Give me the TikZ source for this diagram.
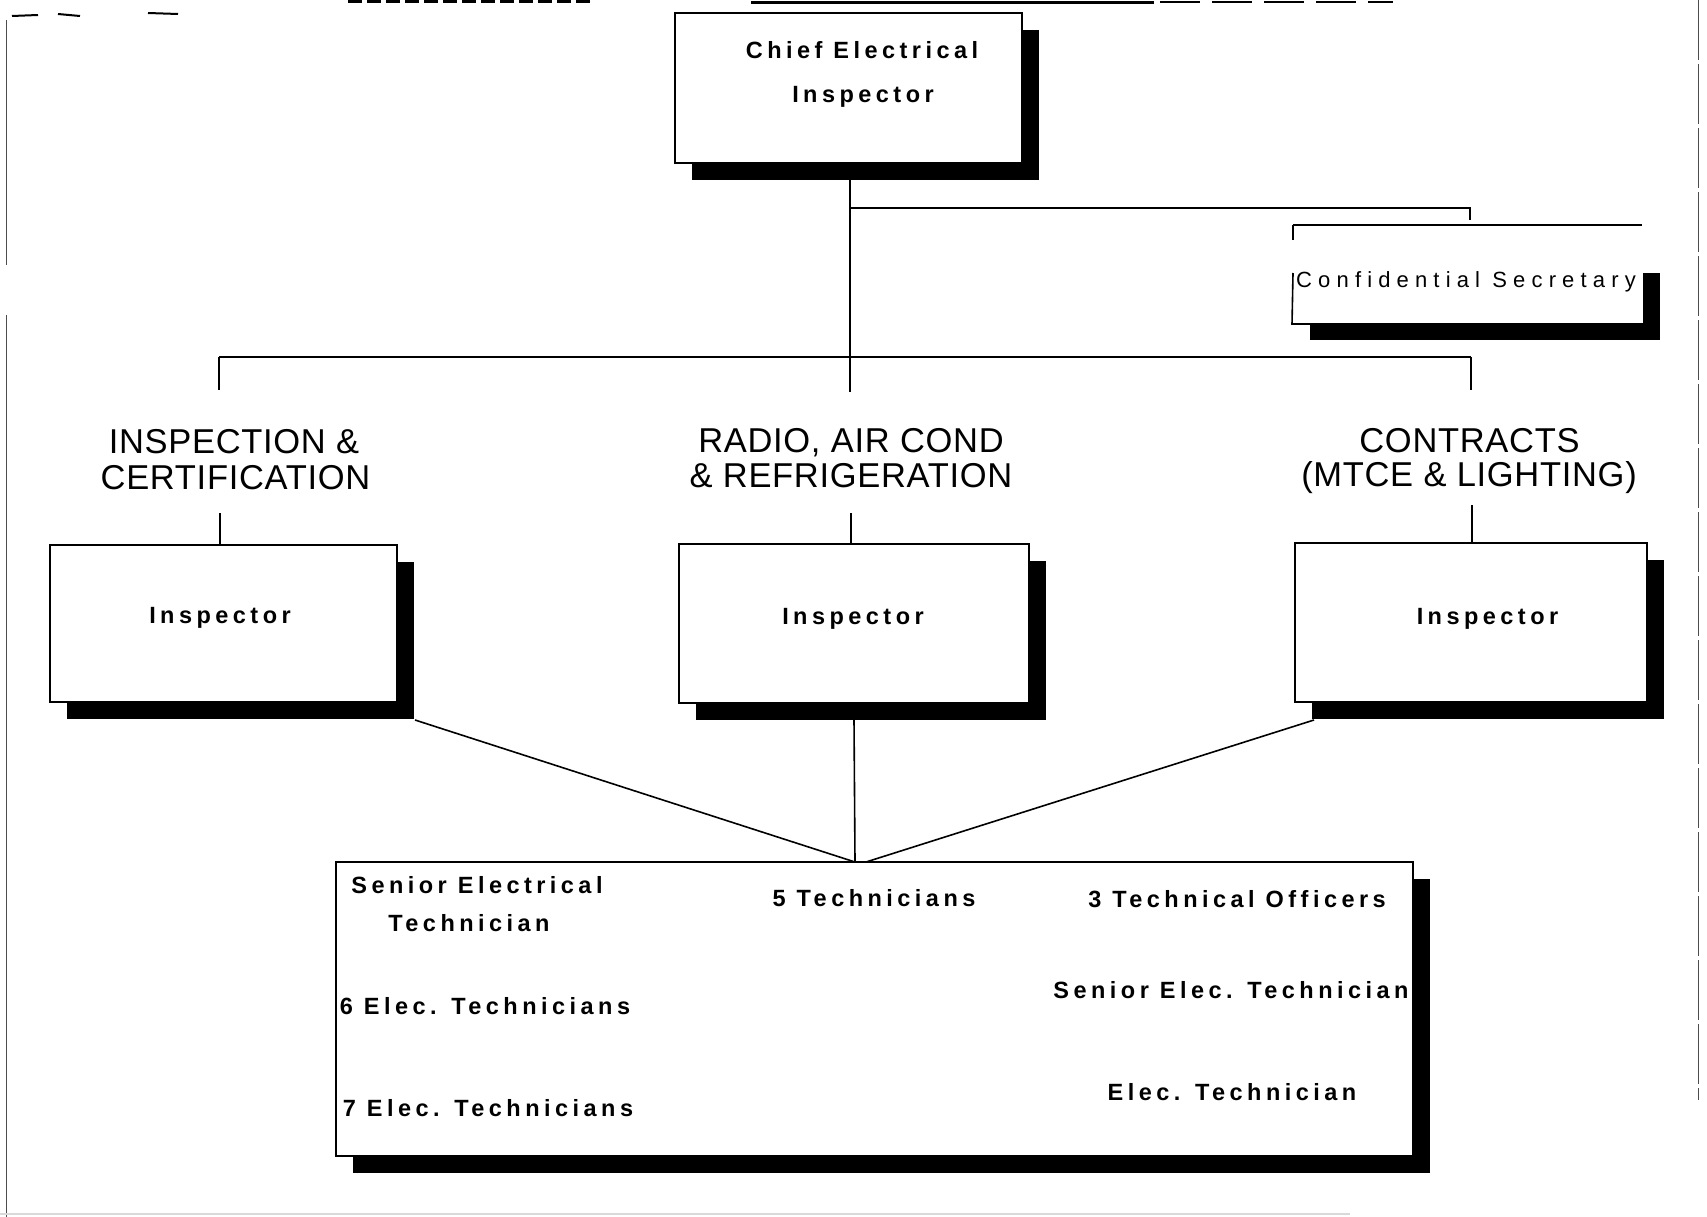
\documentclass[tikz,border=0pt]{standalone}
\usepackage{fontspec}
\setmainfont{Liberation Sans}
\newfontfamily\lblfont{Liberation Sans}[LetterSpace=19]
\newfontfamily\secfont{Liberation Sans}[LetterSpace=28]
\newfontfamily\headfont{Liberation Sans}[LetterSpace=2]
\usetikzlibrary{shadows}

\begin{document}
\begin{tikzpicture}[x=1pt,y=-1pt,
  unitbox/.style={draw=black,fill=white,line width=2pt,inner sep=0pt,
    drop shadow={shadow xshift=17pt,shadow yshift=-17pt,opacity=1,fill=black}},
  link/.style={draw=black,line width=1.6pt},
  edge/.style={draw=black!70,line width=0.8pt},
  lbl/.style={inner sep=0pt,anchor=base,font=\lblfont\bfseries\fontsize{23.5}{28}\selectfont},
  sec/.style={inner sep=0pt,anchor=base,font=\secfont\fontsize{22}{26}\selectfont},
  head/.style={inner sep=0pt,anchor=base,font=\headfont\fontsize{34.5}{42}\selectfont},
]
\useasboundingbox (0,0) rectangle (1707,1217);
\fill[white] (0,0) rectangle (1707,1217);

% page edges and underline remnants at the top
\draw[edge] (6,20) -- (6,265);
\draw[edge] (6,315) -- (6,1217);
\draw[edge,dash pattern=on 60pt off 4pt] (1698,0) -- (1698,1100);
\draw[black!15,line width=1.5pt] (0,1214) -- (1350,1214);
\draw[black,line width=3pt,dash pattern=on 14pt off 5pt] (348,2) -- (593,2);
\draw[black,line width=3pt] (751,3) -- (1154,3);
\draw[black,line width=2pt,dash pattern=on 40pt off 12pt] (1160,2) -- (1393,2);
\draw[black,line width=2pt] (12,16) -- (38,15) (58,14) -- (80,16) (148,13) -- (178,14);

% boxes
\node[unitbox,minimum width=347pt,minimum height=150pt] (chief) at (848.5,88) {};
\node[unitbox,draw=none,minimum width=350pt,minimum height=67pt] (secr) at (1468,289.5) {};
\draw[link] (1293,273) -- (secr.south west) -- (secr.south east);
\node[unitbox,minimum width=347pt,minimum height=157pt] (insL) at (223.5,623.5) {};
\node[unitbox,minimum width=350pt,minimum height=159pt] (insM) at (854,623.5) {};
\node[unitbox,minimum width=352pt,minimum height=159pt] (insR) at (1471,622.5) {};
\node[unitbox,minimum width=1077pt,minimum height=294pt] (staff) at (874.5,1009) {};

% box texts
\node[lbl] (t1) at (862,59) {Chief Electrical};
\node[lbl] (t2) at (863,103) {Inspector};
\node[sec] (t3) at (1466,287) {Confidential Secretary};
\node[lbl] (t4) at (220,623) {Inspector};
\node[lbl] (t5) at (853,624) {Inspector};
\node[lbl] (t6) at (1487.5,624) {Inspector};
\node[lbl] (t7) at (477,893.5) {Senior Electrical};
\node[lbl] (t8) at (469,931.5) {Technician};
\node[lbl] (t9) at (874,906.5) {5 Technicians};
\node[lbl] (t10) at (1237,907.5) {3 Technical Officers};
\node[lbl] (t11) at (485,1014.5) {6 Elec. Technicians};
\node[lbl] (t12) at (1231,998) {Senior Elec. Technician};
\node[lbl] (t13) at (488,1116.7) {7 Elec. Technicians};
\node[lbl] (t14) at (1232,1100.5) {Elec. Technician};

% section headings
\node[head] (h1) at (234,453) {INSPECTION \&};
\node[head] (h2) at (235.5,489) {CERTIFICATION};
\node[head] (h3) at (851,452) {RADIO, AIR COND};
\node[head] (h4) at (851,487) {\& REFRIGERATION};
\node[head] (h5) at (1469.5,452) {CONTRACTS};
\node[head] (h6) at (1469,486) {(MTCE \& LIGHTING)};

% connector points
\coordinate (spine) at (850,392);
\coordinate (sbA) at (850,208);
\coordinate (sbB) at (1470,208);
\coordinate (scA) at (1293,225);
\coordinate (scB) at (1642,225);
\coordinate (busL) at (219,357);
\coordinate (busR) at (1471,357);
\coordinate (tickL) at (220,513);
\coordinate (tickM) at (851,513);
\coordinate (tickR) at (1472,505);
\coordinate (apexL) at (855,862);
\coordinate (apexR) at (866,862);

% connectors
\draw[link] (chief.south -| spine) -- (spine);
\draw[link] (sbA) -- (sbB) -- ++(0,12);
\draw[link] (scA) -- (scB);
\draw[link] (scA) -- ++(0,15);
\draw[link] (busL) -- (busR);
\draw[link] (busL) -- ++(0,33);
\draw[link] (busR) -- ++(0,33);
\draw[link] (tickL) -- (tickL |- insL.north);
\draw[link] (tickM) -- (tickM |- insM.north);
\draw[link] (tickR) -- (tickR |- insR.north);
\draw[link] ([shift={(17pt,-17pt)}]insL.south east) -- (apexL);
\draw[link] ([yshift=-16pt]insM.south) -- (apexL);
\draw[link] ([shift={(20pt,-17pt)}]insR.south west) -- (apexR);
\end{tikzpicture}
\end{document}
